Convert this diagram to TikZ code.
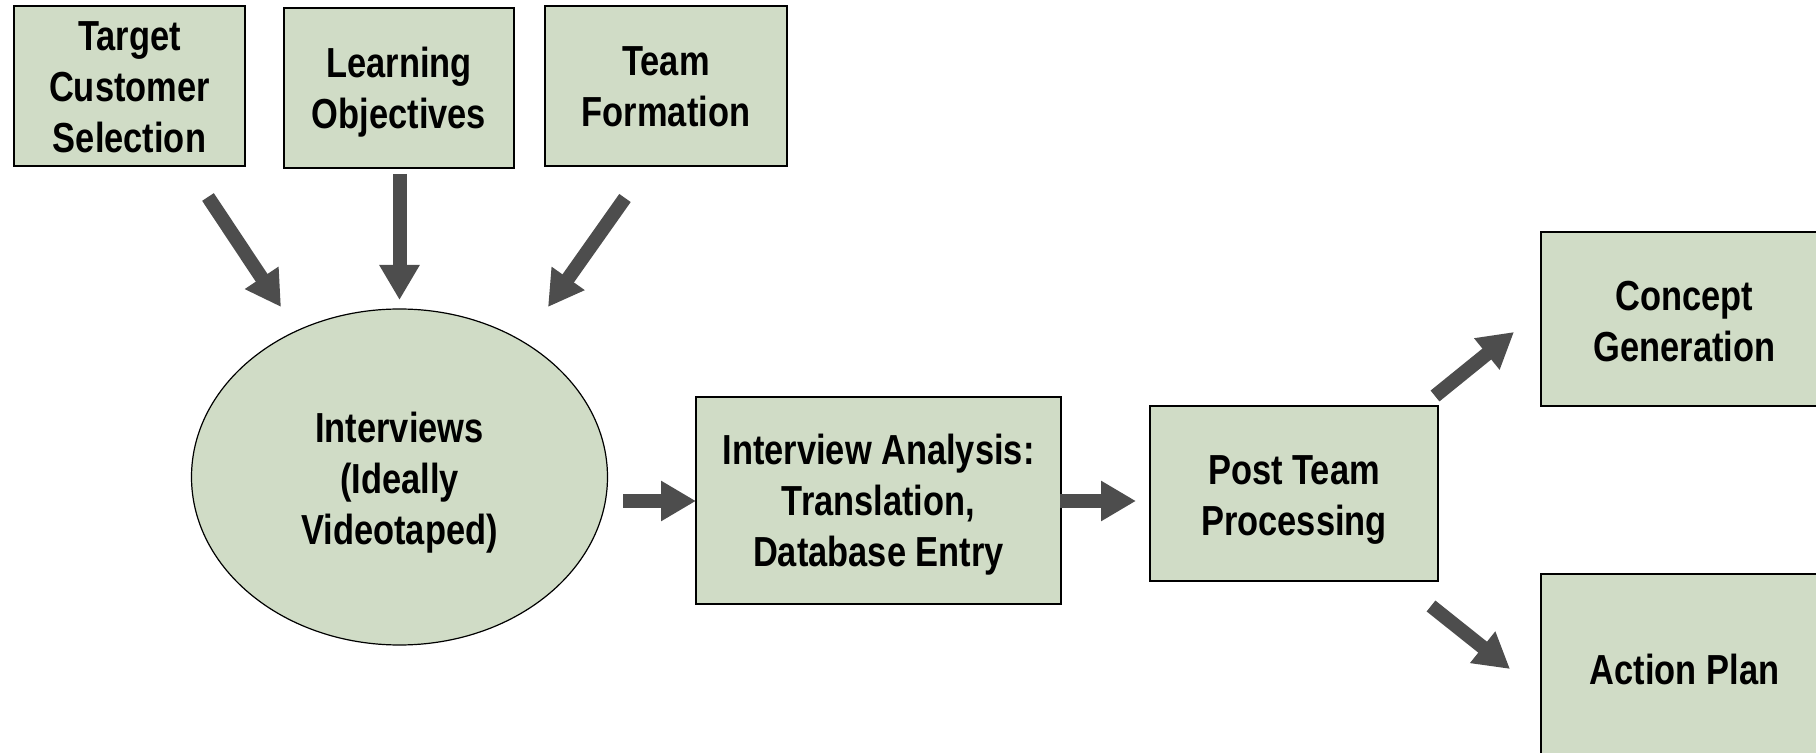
\documentclass[tikz,border=0pt]{standalone}
\usepackage{fontspec}
\setmainfont{Liberation Sans}[FakeStretch=0.82]
\usetikzlibrary{arrows.meta,shapes.geometric}
\definecolor{sage}{RGB}{208,220,198}
\definecolor{arrowgray}{RGB}{77,77,77}
\begin{document}
\begin{tikzpicture}[x=0.5pt,y=-0.5pt,
  every node/.style={inner sep=0pt},
  lbl/.style={font=\fontsize{21}{25.5}\selectfont\bfseries, align=center},
  box/.style={rectangle, draw=black, line width=0.75pt, fill=sage},
  oval/.style={ellipse, draw=black, line width=0.6pt, fill=sage},
  bigarrow/.style={draw=arrowgray, line width=7pt, line cap=butt,
    -{Triangle[length=17.5pt,width=19pt]}, color=arrowgray}]
\useasboundingbox (0,0) rectangle (1816,753);
\clip (0,0) rectangle (1816,753);
% shapes
\node[box, minimum width=115.5pt, minimum height=80pt] (tcs) at (129.5,86) {};
\node[box, minimum width=115pt, minimum height=80pt] (lo) at (399,88) {};
\node[box, minimum width=121pt, minimum height=80pt] (tf) at (666,86) {};
\node[oval, minimum width=208pt, minimum height=168pt] (int) at (399.5,477) {};
\node[box, minimum width=182.5pt, minimum height=103.5pt] (ia) at (878.5,500.5) {};
\node[box, minimum width=144pt, minimum height=87.5pt] (ptp) at (1294,493.5) {};
\node[box, minimum width=143.5pt, minimum height=87pt] (cg) at (1684.5,319) {};
\node[box, minimum width=143.5pt, minimum height=100pt] (ap) at (1684.5,674) {};
% texts
\node[lbl] (tcs-t) at (129.5,87) {Target\\Customer\\Selection};
\node[lbl] (lo-t) at (399,92.5) {Learning\\Objectives};
\node[lbl] (tf-t) at (666,86.5) {Team\\Formation};
\node[lbl] (int-t) at (399.5,483) {Interviews\\(Ideally\\Videotaped)};
\node[lbl] (ia-t) at (878.5,505) {Interview Analysis:\\Translation,\\Database Entry};
\node[lbl] (ptp-t) at (1294,500) {Post Team\\Processing};
\node[lbl] (cg-t) at (1684.5,321.5) {Concept\\Generation};
\node[lbl] (ap-t) at (1684.5,669) {Action Plan};
% arrow end points
\coordinate (a1s) at (208,197);  \coordinate (a1e) at (281,307);
\coordinate (a2s) at (399.5,174); \coordinate (a2e) at (399.5,300);
\coordinate (a3s) at (625,198);  \coordinate (a3e) at (548,307);
\coordinate (a4s) at (623,501);  \coordinate (a4e) at (696,501);
\coordinate (a5s) at (1060,501); \coordinate (a5e) at (1136,501);
\coordinate (a6s) at (1435,396); \coordinate (a6e) at (1514,332);
\coordinate (a7s) at (1431,606); \coordinate (a7e) at (1510,669);
\draw[bigarrow] (a1s) -- (a1e);
\draw[bigarrow] (a2s) -- (a2e);
\draw[bigarrow] (a3s) -- (a3e);
\draw[bigarrow] (a4s) -- (a4e);
\draw[bigarrow] (a5s) -- (a5e);
\draw[bigarrow] (a6s) -- (a6e);
\draw[bigarrow] (a7s) -- (a7e);
\end{tikzpicture}
\end{document}
